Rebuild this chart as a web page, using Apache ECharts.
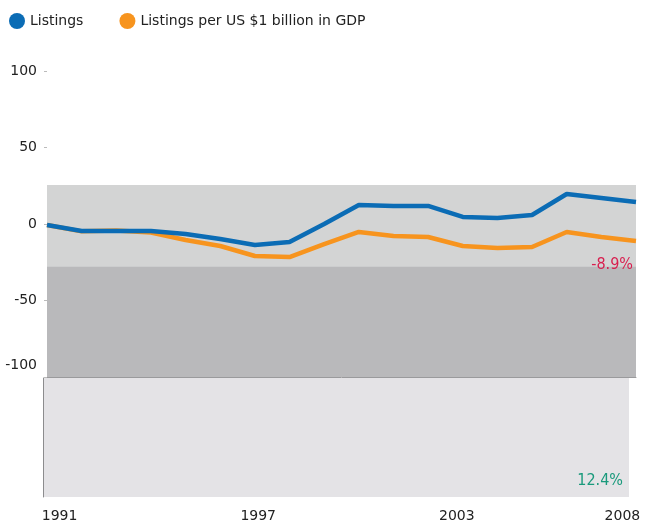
<!DOCTYPE html>
<html>
<head>
<meta charset="utf-8">
<script src="https://cdn.jsdelivr.net/npm/echarts@6/dist/echarts.min.js"></script>
<style>
  html, body { margin: 0; padding: 0; background: #fff; }
  #chart { width: 645px; height: 525px; }
</style>
</head>
<body>
<div id="chart"></div>
<script>
// data
var years = [1991, 1992, 1993, 1994, 1995, 1996, 1997, 1998, 1999, 2000, 2001, 2002, 2003, 2004, 2005, 2006, 2007, 2008];
var listings = [-0.7, -4.6, -4.6, -4.6, -6.5, -9.8, -13.7, -11.8, 0, 12.4, 11.8, 11.8, 4.6, 3.9, 5.9, 19.6, 17, 14.4];
var listingsPerGdp = [-0.7, -4.8, -4.2, -5.6, -10.5, -14.4, -20.9, -21.6, -13.1, -5.2, -7.8, -8.5, -14.4, -15.7, -15, -5.2, -8.5, -11.1];
var yearLabels = [1991, 1997, 2003, 2008];
var lightBand = [25.5, -100];
var darkBand = [-28, -100];
var notes = ['-8.9%', '12.4%'];

var font = 'DejaVu Sans';
var chart = echarts.init(document.getElementById('chart'));

function pairs(vals) {
  return years.map(function (y, i) { return [y, vals[i]]; });
}

var option = {
  animation: false,
  legend: {
    left: 4, top: 8,
    icon: 'circle',
    itemWidth: 16, itemHeight: 16, itemGap: 36,
    textStyle: { fontFamily: font, fontSize: 14, color: '#222' },
    data: ['Listings', 'Listings per US $1 billion in GDP']
  },
  grid: [
    { left: 47, right: 9, top: 71, height: 306 },
    { left: 43, right: 16, top: 378, height: 119, show: true, backgroundColor: '#e4e3e6', borderWidth: 0 }
  ],
  xAxis: [
    {
      gridIndex: 0, type: 'value', min: years[0], max: years[years.length - 1],
      axisLine: { show: true, onZero: false, lineStyle: { color: '#9a9a9c', width: 1 } },
      axisTick: { show: false }, axisLabel: { show: false }, splitLine: { show: false }
    },
    {
      gridIndex: 1, type: 'value', min: 1990.5, max: 2008.2,
      axisLine: { show: false }, axisTick: { show: false }, splitLine: { show: false },
      axisLabel: {
        customValues: yearLabels, margin: 12,
        fontFamily: font, fontSize: 14, color: '#222',
        formatter: function (v) { return String(v); }
      }
    }
  ],
  yAxis: [
    {
      gridIndex: 0, type: 'value', min: -100, max: 100, interval: 50,
      axisLine: { show: false },
      axisTick: { show: true, length: 3, lineStyle: { color: '#bbb' } },
      splitLine: { show: false },
      axisLabel: {
        margin: 10, fontFamily: font, fontSize: 14, color: '#222',
        formatter: function (v) { return v === -100 ? '{lo|-100}' : String(v); },
        rich: { lo: { fontFamily: font, fontSize: 14, color: '#222', padding: [0, 0, 24, 0] } }
      }
    },
    {
      gridIndex: 1, type: 'value', min: 0, max: 1,
      axisLine: { show: true, lineStyle: { color: '#8c8c8e', width: 1 } },
      axisTick: { show: false }, axisLabel: { show: false }, splitLine: { show: false }
    }
  ],
  series: [
    {
      name: 'Listings', type: 'line', xAxisIndex: 0, yAxisIndex: 0,
      data: pairs(listings), symbol: 'none', z: 4,
      lineStyle: { color: '#0b6cb5', width: 4.5 }, itemStyle: { color: '#0b6cb5' },
      markArea: {
        silent: true,
        data: [
          [{ yAxis: lightBand[0], itemStyle: { color: '#d3d4d4' } }, { yAxis: lightBand[1] }],
          [{ yAxis: darkBand[0], itemStyle: { color: '#b9b9bb' } }, { yAxis: darkBand[1] }]
        ]
      }
    },
    {
      name: 'Listings per US $1 billion in GDP', type: 'line', xAxisIndex: 0, yAxisIndex: 0,
      data: pairs(listingsPerGdp), symbol: 'none', z: 3,
      lineStyle: { color: '#f7941e', width: 4.5 }, itemStyle: { color: '#f7941e' }
    }
  ],
  graphic: [
    {
      type: 'text', right: 12, top: 257, z: 100,
      style: { text: notes[0], fill: '#d81f4f', font: '16px "DejaVu Sans Condensed"' }
    },
    {
      type: 'text', right: 22, top: 473, z: 100,
      style: { text: notes[1], fill: '#1a9a7c', font: '16px "DejaVu Sans Condensed"' }
    }
  ]
};

chart.setOption(option);
</script>
</body>
</html>
